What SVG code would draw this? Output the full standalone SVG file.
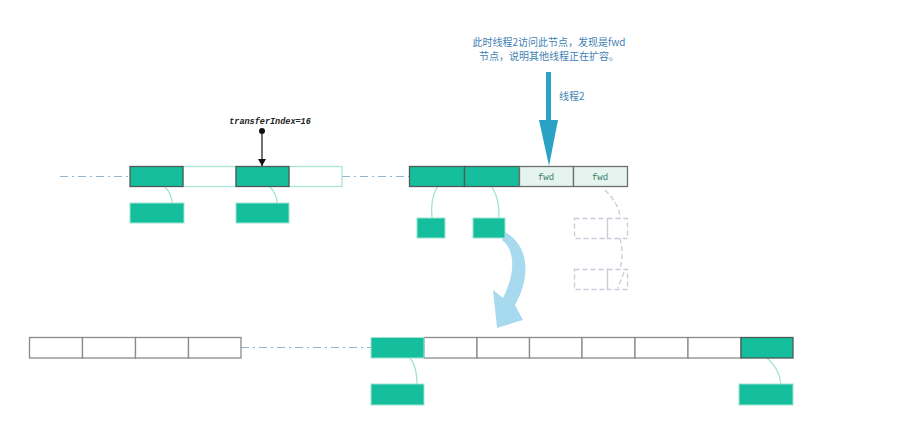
<svg xmlns="http://www.w3.org/2000/svg" width="917" height="447" viewBox="0 0 917 447">
<defs>
<style>
.g{fill:#15bf9d;stroke:#4d5a56;stroke-width:1.3}
.gl{fill:#15bf9d;stroke:#9fe3d2;stroke-width:1}
.w{fill:#fff;stroke:#8a8a8a;stroke-width:1.3}
.wl{fill:#fff;stroke:#a6e6d6;stroke-width:1.3}
.f{fill:#e6f4ef;stroke:#6e6e6e;stroke-width:1.3}
.dd{fill:none;stroke:#c8ccd6;stroke-width:1.3;stroke-dasharray:5,3}
.dl{fill:none;stroke:#8fb5d3;stroke-width:1.2;stroke-dasharray:8,4,2,4}
.c{fill:none;stroke:#9fe3d2;stroke-width:1.3}
.t{font-family:"Noto Sans CJK SC","Noto Sans",sans-serif;font-size:10px;fill:#3f7fb3}
.m{font-family:"Liberation Mono",monospace;font-size:9px;fill:#3a7d68}
</style>
<marker id="ah" markerWidth="8" markerHeight="8" refX="7" refY="4" orient="auto" markerUnits="userSpaceOnUse">
<path d="M0,0 L7,4 L0,8 Z" fill="#111"/>
</marker>
</defs>
<rect width="917" height="447" fill="#fff"/>
<g id="connectors">
<line class="dl" x1="60" y1="176.5" x2="130" y2="176.5"/>
<line class="dl" x1="342" y1="176.5" x2="409" y2="176.5"/>
<line class="dl" x1="241" y1="347.5" x2="371" y2="347.5"/>
<path class="c" d="M165,187 Q172,194 172,203"/>
<path class="c" d="M270,187 Q277,194 277,203"/>
<path class="c" d="M437,187 Q430,200 432,218"/>
<path class="c" d="M492,187 Q500,200 499,218"/>
<path class="c" d="M410,358 Q417,366 417,384"/>
<path class="c" d="M767,358 Q779,368 781,384"/>
<path class="dd" d="M605,190 Q620,205 620,218"/>
<path class="dd" d="M620,238 Q624,255 620,269"/>
<path class="dd" d="M624,272 L618,288"/>
<circle cx="262" cy="131" r="3" fill="#111"/>
<line x1="262" y1="131" x2="262" y2="166" stroke="#111" stroke-width="1.2" marker-end="url(#ah)"/>
<rect x="546" y="72" width="5" height="50" fill="#2aa2c4"/>
<path d="M539,120 L558,120 L549,166 Z" fill="#2aa2c4"/>
<path d="M505,232 C528,245 532,275 515,305 L523,320 L497,328 L493,290 L503,298 C516,272 515,250 502,240 Z" fill="#a7d9ef"/>
</g>
<g id="text">
<text class="t" x="549" y="46" text-anchor="middle">此时线程2访问此节点，发现是fwd</text>
<text class="t" x="549" y="60" text-anchor="middle">节点，说明其他线程正在扩容。</text>
<text class="t" x="559" y="100">线程2</text>
<text x="270" y="124" text-anchor="middle" font-family="Liberation Mono,monospace" font-size="8.5" font-weight="bold" font-style="italic" fill="#222">transferIndex=16</text>
</g>
<g id="array-top-left">
<rect class="wl" x="183" y="166.5" width="53" height="20"/>
<rect class="wl" x="289" y="166.5" width="53" height="20"/>
<rect class="g" x="130" y="166.5" width="53" height="20"/>
<rect class="g" x="236" y="166.5" width="53" height="20"/>
<rect class="gl" x="130" y="203" width="54" height="20"/>
<rect class="gl" x="236" y="203" width="53" height="20"/>
</g>
<g id="array-top-right">
<rect class="g" x="409.5" y="166.5" width="55" height="20"/>
<rect class="g" x="464.5" y="166.5" width="55" height="20"/>
<rect class="f" x="519.5" y="166.5" width="54" height="20"/>
<rect class="f" x="573.5" y="166.5" width="54" height="20"/>
<text class="m" x="546" y="179.5" text-anchor="middle">fwd</text>
<text class="m" x="600" y="179.5" text-anchor="middle">fwd</text>
<rect class="gl" x="417" y="218" width="28" height="20"/>
<rect class="gl" x="473" y="218" width="32" height="20"/>
<rect class="dd" x="574.5" y="218.5" width="33" height="20"/>
<rect class="dd" x="607.5" y="218.5" width="20" height="20"/>
<rect class="dd" x="574.5" y="269.5" width="33" height="20"/>
<rect class="dd" x="607.5" y="269.5" width="20" height="20"/>
</g>
<g id="array-bottom-left">
<rect class="w" x="29.5" y="337.5" width="53" height="20.5"/>
<rect class="w" x="82.5" y="337.5" width="53" height="20.5"/>
<rect class="w" x="135.5" y="337.5" width="53" height="20.5"/>
<rect class="w" x="188.5" y="337.5" width="52.5" height="20.5"/>
</g>
<g id="array-bottom-right">
<rect class="w" x="424" y="337.5" width="53" height="20.5"/>
<rect class="w" x="477" y="337.5" width="52.5" height="20.5"/>
<rect class="w" x="529.5" y="337.5" width="52.5" height="20.5"/>
<rect class="w" x="582" y="337.5" width="53" height="20.5"/>
<rect class="w" x="635" y="337.5" width="53" height="20.5"/>
<rect class="w" x="688" y="337.5" width="53" height="20.5"/>
<rect class="gl" x="371" y="337.5" width="53" height="20.5"/>
<rect class="g" x="741" y="337.5" width="52" height="20.5"/>
<rect class="gl" x="371" y="384" width="53" height="21"/>
<rect class="gl" x="739" y="384" width="54" height="21"/>
</g>
</svg>
